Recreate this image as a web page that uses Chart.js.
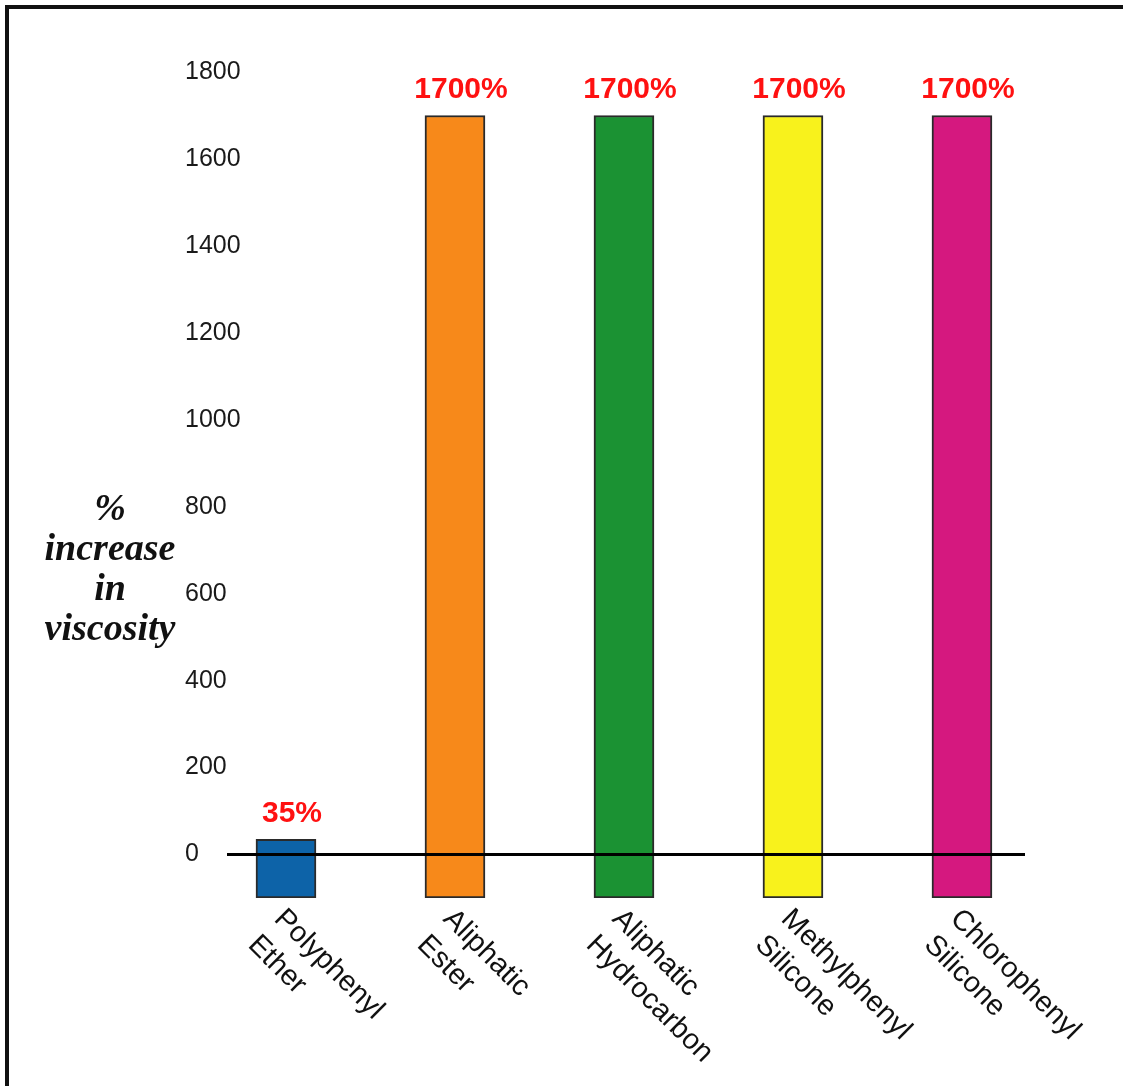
<!DOCTYPE html>
<html>
<head>
<meta charset="utf-8">
<script src="https://cdn.jsdelivr.net/npm/chart.js@4.4.1/dist/chart.umd.min.js"></script>
<style>
  html, body { margin: 0; padding: 0; background: #fff; overflow: hidden; }
  #wrap { position: relative; width: 1123px; height: 1086px; }
  #frame { position: absolute; left: 5px; top: 5px; width: 1200px; height: 1200px;
           border-left: 4px solid #111; border-top: 4px solid #111; pointer-events: none; }
  canvas { position: absolute; left: 0; top: 0; }
</style>
</head>
<body>
<div id="wrap">
  <canvas id="c" width="1123" height="1086"></canvas>
  <div id="frame"></div>
</div>
<script>
// ---- data ----
const categories = [
  ['Polyphenyl', 'Ether'],
  ['Aliphatic', 'Ester'],
  ['Aliphatic', 'Hydrocarbon'],
  ['Methylphenyl', 'Silicone'],
  ['Chlorophenyl', 'Silicone']
];
const increaseValues = [35, 1700, 1700, 1700, 1700];
const barBottoms = [-100, -100, -100, -100, -100];
const valueLabels = ['35%', '1700%', '1700%', '1700%', '1700%'];
const yTicks = [0, 200, 400, 600, 800, 1000, 1200, 1400, 1600, 1800];
const yTitleLines = ['%', 'increase', 'in', 'viscosity'];
const barColors = ['#0d63a8', '#f7891a', '#1b9233', '#f8f21c', '#d5187f'];

const points = categories.map((c, i) => ({ x: i, y: [barBottoms[i], increaseValues[i]] }));

const labelPlugin = {
  id: 'labelPlugin',
  afterDraw(chart) {
    const ctx = chart.ctx;
    const xs = chart.scales.x, ys = chart.scales.y;
    ctx.save();
    // value labels
    ctx.fillStyle = '#ff1111';
    ctx.font = 'bold 30px "Liberation Sans", Arial, sans-serif';
    ctx.textAlign = 'center';
    ctx.textBaseline = 'alphabetic';
    increaseValues.forEach((v, i) => {
      ctx.fillText(valueLabels[i], xs.getPixelForValue(i) + 6, ys.getPixelForValue(v) - 17);
    });
    // category labels, rotated 45deg clockwise
    ctx.fillStyle = '#111';
    ctx.font = '29px "Liberation Sans", Arial, sans-serif';
    ctx.textAlign = 'left';
    ctx.textBaseline = 'top';
    categories.forEach((lines, i) => {
      const px = xs.getPixelForValue(i) + 3;
      const py = ys.getPixelForValue(barBottoms[i]) + 6;
      ctx.save();
      ctx.translate(px, py);
      ctx.rotate(Math.PI / 4);
      lines.forEach((t, k) => ctx.fillText(t, 0, k * 37));
      ctx.restore();
    });
    // y-axis title
    ctx.fillStyle = '#111';
    ctx.font = 'italic bold 38px "Liberation Serif", "Times New Roman", serif';
    ctx.textAlign = 'center';
    ctx.textBaseline = 'alphabetic';
    yTitleLines.forEach((t, k) => ctx.fillText(t, 110, 520 + k * 40));
    ctx.restore();
  }
};

new Chart(document.getElementById('c'), {
  type: 'bar',
  data: {
    datasets: [{
      data: points,
      backgroundColor: barColors,
      borderColor: '#2a2a2a',
      borderWidth: 2,
      borderSkipped: false,
      barThickness: 60
    }]
  },
  options: {
    responsive: false,
    animation: false,
    devicePixelRatio: 1,
    layout: { padding: { top: 72, right: 98, bottom: 188, left: 0 } },
    plugins: { legend: { display: false }, tooltip: { enabled: false } },
    scales: {
      x: {
        type: 'linear',
        display: false,
        offset: false,
        min: -0.349,
        max: 4.373
      },
      y: {
        min: -100,
        max: 1800,
        afterBuildTicks: s => { s.ticks = yTicks.map(v => ({ value: v })); },
        afterFit: s => { s.width = 227; },
        grid: {
          z: 1,
          drawTicks: false,
          color: c => (c.tick && c.tick.value === 0 ? '#000' : 'rgba(0,0,0,0)'),
          lineWidth: 3
        },
        border: { display: false },
        ticks: {
          mirror: true,
          padding: -42,
          color: '#1a1a1a',
          font: { family: '"Liberation Sans", Arial, sans-serif', size: 25 },
          callback: v => String(v)
        }
      }
    }
  },
  plugins: [labelPlugin]
});
</script>
</body>
</html>
